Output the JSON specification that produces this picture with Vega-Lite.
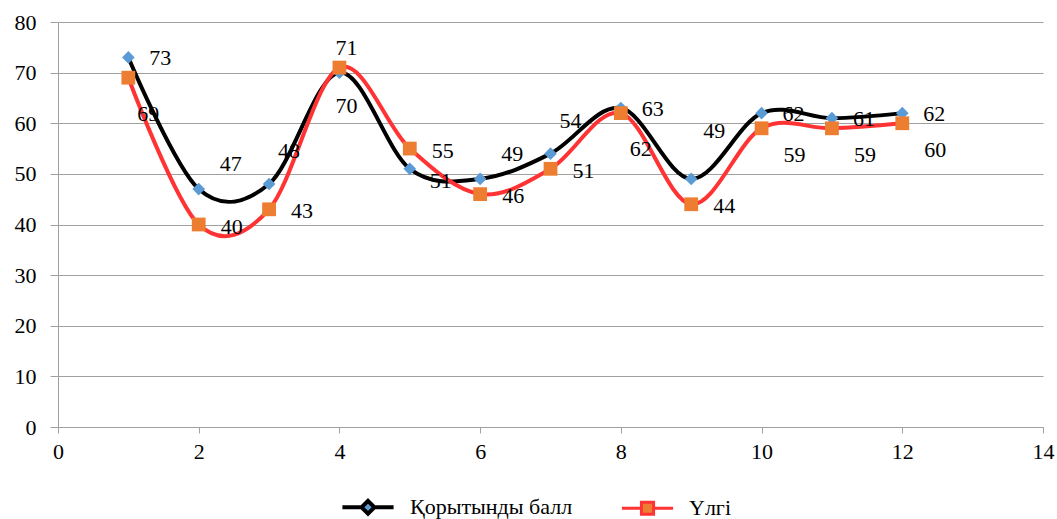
{
  "$schema": "https://vega.github.io/schema/vega-lite/v6.json",
  "width": 985,
  "height": 405,
  "autosize": {"type": "none"},
  "padding": {"left": 58, "top": 22, "right": 14, "bottom": 92},
  "background": "white",
  "config": {
    "font": "'Liberation Serif', 'DejaVu Serif', serif",
    "view": {"stroke": null},
    "text": {"font": "'Liberation Serif', 'DejaVu Serif', serif", "fontSize": 22, "color": "#000000", "align": "center", "baseline": "middle"},
    "axis": {"labelFont": "'Liberation Serif', 'DejaVu Serif', serif", "labelFontSize": 22, "labelColor": "#000000", "domainColor": "#a0a0a0", "tickColor": "#a0a0a0", "gridColor": "#a0a0a0", "title": null}
  },
  "data": {
    "values": [
      {"x": 1, "series": "Қорытынды балл", "value": 73},
      {"x": 2, "series": "Қорытынды балл", "value": 47},
      {"x": 3, "series": "Қорытынды балл", "value": 48},
      {"x": 4, "series": "Қорытынды балл", "value": 70},
      {"x": 5, "series": "Қорытынды балл", "value": 51},
      {"x": 6, "series": "Қорытынды балл", "value": 49},
      {"x": 7, "series": "Қорытынды балл", "value": 54},
      {"x": 8, "series": "Қорытынды балл", "value": 63},
      {"x": 9, "series": "Қорытынды балл", "value": 49},
      {"x": 10, "series": "Қорытынды балл", "value": 62},
      {"x": 11, "series": "Қорытынды балл", "value": 61},
      {"x": 12, "series": "Қорытынды балл", "value": 62},
      {"x": 1, "series": "Үлгі", "value": 69},
      {"x": 2, "series": "Үлгі", "value": 40},
      {"x": 3, "series": "Үлгі", "value": 43},
      {"x": 4, "series": "Үлгі", "value": 71},
      {"x": 5, "series": "Үлгі", "value": 55},
      {"x": 6, "series": "Үлгі", "value": 46},
      {"x": 7, "series": "Үлгі", "value": 51},
      {"x": 8, "series": "Үлгі", "value": 62},
      {"x": 9, "series": "Үлгі", "value": 44},
      {"x": 10, "series": "Үлгі", "value": 59},
      {"x": 11, "series": "Үлгі", "value": 59},
      {"x": 12, "series": "Үлгі", "value": 60}
    ]
  },
  "encoding": {
    "x": {"field": "x", "type": "quantitative",
      "scale": {"domain": [0, 14], "nice": false, "zero": false},
      "axis": {"values": [0, 2, 4, 6, 8, 10, 12, 14], "grid": false, "tickSize": 6, "labelPadding": 8, "domain": true, "labelFlush": false}},
    "y": {"field": "value", "type": "quantitative",
      "scale": {"domain": [0, 80], "nice": false},
      "axis": {"values": [0, 10, 20, 30, 40, 50, 60, 70, 80], "grid": true, "tickSize": 8, "labelPadding": 14, "domain": true}}
  },
  "layer": [
    {
      "mark": {"type": "line", "interpolate": "cardinal", "strokeWidth": 4},
      "encoding": {
        "stroke": {"field": "series", "type": "nominal",
          "scale": {"domain": ["Қорытынды балл", "Үлгі"], "range": ["#000000", "#ff3333"]},
          "legend": {
            "orient": "none", "legendX": 292, "legendY": 467, "direction": "horizontal", "title": null,
            "labelFont": "'Liberation Serif', 'DejaVu Serif', serif", "labelFontSize": 22, "labelColor": "#000000", "labelLimit": 0,
            "symbolType": "M-1.6,0H-0.4M0.4,0H1.6M0,-0.4L0.4,0L0,0.4L-0.4,0Z",
            "symbolSize": 1024, "symbolStrokeWidth": 3.5, "columnPadding": 42, "labelOffset": 24,
            "encode": {"symbols": {"update": {
              "fill": {"signal": "datum.value === 'Үлгі' ? '#ed7d31' : '#5b9bd5'"},
              "fillOpacity": {"value": 1},
              "strokeWidth": {"value": 3.5},
              "shape": {"signal": "datum.value === 'Үлгі' ? 'M-1.6,0H-0.4M0.4,0H1.6M-0.38,-0.38H0.38V0.38H-0.38Z' : 'M-1.6,0H-0.4M0.4,0H1.6M0,-0.4L0.4,0L0,0.4L-0.4,0Z'"}
            }}}
          }},
        "strokeWidth": {"field": "series", "type": "nominal", "scale": {"domain": ["Қорытынды балл", "Үлгі"], "range": [4, 3]}, "legend": null}
      }
    },
    {
      "transform": [{"filter": "datum.series === 'Қорытынды балл'"}],
      "mark": {"type": "point", "filled": true, "opacity": 1, "shape": "diamond", "size": 160, "fill": "#5b9bd5"}
    },
    {
      "transform": [{"filter": "datum.series === 'Үлгі'"}],
      "mark": {"type": "point", "filled": true, "opacity": 1, "shape": "square", "size": 190, "fill": "#ed7d31"}
    },
    {
      "transform": [{"filter": "datum.series === 'Қорытынды балл' && indexof([1, 8, 10, 11, 12], datum.x) >= 0"}],
      "mark": {"type": "text", "dx": 32, "dy": 1},
      "encoding": {"text": {"field": "value", "type": "quantitative"}}
    },
    {
      "transform": [{"filter": "datum.series === 'Қорытынды балл' && indexof([2, 6], datum.x) >= 0"}],
      "mark": {"type": "text", "dx": 32, "dy": -25},
      "encoding": {"text": {"field": "value", "type": "quantitative"}}
    },
    {
      "transform": [{"filter": "datum.series === 'Қорытынды балл' && indexof([3, 7], datum.x) >= 0"}],
      "mark": {"type": "text", "dx": 20, "dy": -33},
      "encoding": {"text": {"field": "value", "type": "quantitative"}}
    },
    {
      "transform": [{"filter": "datum.series === 'Қорытынды балл' && datum.x === 9"}],
      "mark": {"type": "text", "dx": 23, "dy": -48},
      "encoding": {"text": {"field": "value", "type": "quantitative"}}
    },
    {
      "transform": [{"filter": "datum.series === 'Қорытынды балл' && datum.x === 4"}],
      "mark": {"type": "text", "dx": 7, "dy": 33},
      "encoding": {"text": {"field": "value", "type": "quantitative"}}
    },
    {
      "transform": [{"filter": "datum.series === 'Қорытынды балл' && datum.x === 5"}],
      "mark": {"type": "text", "dx": 31, "dy": 12},
      "encoding": {"text": {"field": "value", "type": "quantitative"}}
    },
    {
      "transform": [{"filter": "datum.series === 'Үлгі' && indexof([2, 3, 5, 6, 7, 9], datum.x) >= 0"}],
      "mark": {"type": "text", "dx": 33, "dy": 2},
      "encoding": {"text": {"field": "value", "type": "quantitative"}}
    },
    {
      "transform": [{"filter": "datum.series === 'Үлгі' && indexof([10, 11, 12], datum.x) >= 0"}],
      "mark": {"type": "text", "dx": 33, "dy": 27},
      "encoding": {"text": {"field": "value", "type": "quantitative"}}
    },
    {
      "transform": [{"filter": "datum.series === 'Үлгі' && indexof([1, 8], datum.x) >= 0"}],
      "mark": {"type": "text", "dx": 20, "dy": 36},
      "encoding": {"text": {"field": "value", "type": "quantitative"}}
    },
    {
      "transform": [{"filter": "datum.series === 'Үлгі' && datum.x === 4"}],
      "mark": {"type": "text", "dx": 7, "dy": -20},
      "encoding": {"text": {"field": "value", "type": "quantitative"}}
    }
  ]
}
